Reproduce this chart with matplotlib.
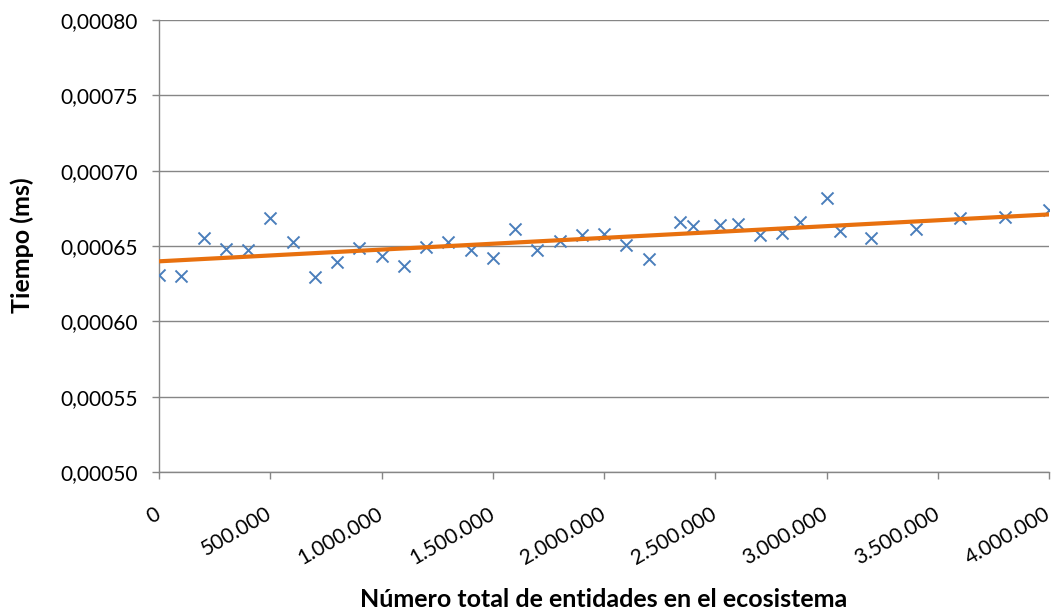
import numpy as np
import matplotlib
matplotlib.use("Agg")
import matplotlib.pyplot as plt
from matplotlib.ticker import FuncFormatter, MultipleLocator

plt.rcParams["font.family"] = ["Lato", "DejaVu Sans"]

# entity counts and measured time per entity (ms)
entidades = [
    0, 100000, 200000, 300000, 400000, 500000, 600000, 700000, 800000,
    900000, 1000000, 1100000, 1200000, 1300000, 1400000, 1500000, 1600000,
    1700000, 1800000, 1900000, 2000000, 2100000, 2200000, 2340000, 2400000,
    2520000, 2600000, 2700000, 2800000, 2880000, 3000000, 3060000, 3200000,
    3400000, 3600000, 3800000, 4000000,
]
tiempo = [
    0.0006305, 0.0006300, 0.0006553, 0.0006483, 0.0006473, 0.0006689,
    0.0006527, 0.0006293, 0.0006391, 0.0006485, 0.0006433, 0.0006369,
    0.0006496, 0.0006528, 0.0006473, 0.0006420, 0.0006611, 0.0006471,
    0.0006533, 0.0006571, 0.0006578, 0.0006505, 0.0006411, 0.0006658,
    0.0006633, 0.0006640, 0.0006649, 0.0006573, 0.0006583, 0.0006656,
    0.0006816, 0.0006598, 0.0006556, 0.0006616, 0.0006689, 0.0006693,
    0.0006740,
]

x = np.array(entidades, dtype=float)
y = np.array(tiempo)

# linear trend line
pend, orig = np.polyfit(x, y, 1)
xt = np.array([0, 4000000])
yt = orig + pend * xt

fig = plt.figure(figsize=(10.56, 6.14), dpi=100)
ax = fig.add_axes([0.1506, 0.2313, 0.8428, 0.7361])

gris = "#868686"
ax.scatter(x, y, marker="x", s=75, linewidths=1.4, color="#4A7EBB", zorder=3)
ax.plot(xt, yt, color="#E8700E", linewidth=3.0, zorder=4,
        solid_capstyle="butt")

ax.set_xlim(0, 4000000)
ax.set_ylim(0.0005, 0.0008)
ax.xaxis.set_major_locator(MultipleLocator(500000))
ax.yaxis.set_major_locator(MultipleLocator(0.00005))

ax.xaxis.set_major_formatter(
    FuncFormatter(lambda v, p: f"{int(round(v)):,}".replace(",", ".")))
ax.yaxis.set_major_formatter(
    FuncFormatter(lambda v, p: f"{v:.5f}".replace(".", ",")))

ax.grid(axis="y", color=gris, linewidth=1.0)
ax.set_axisbelow(True)
for s in ["top", "right"]:
    ax.spines[s].set_visible(False)
for s in ["left", "bottom"]:
    ax.spines[s].set_color(gris)
    ax.spines[s].set_linewidth(1.0)

ax.tick_params(axis="both", direction="out", length=5, width=1.0,
               color=gris, labelsize=15, labelcolor="black")
ax.tick_params(axis="x", pad=24)
ax.tick_params(axis="y", pad=10)
for lab in ax.get_xticklabels():
    lab.set_rotation(30)
    lab.set_ha("right")
    lab.set_va("center")
    lab.set_rotation_mode("anchor")

fig.text(0.021, 0.6, "Tiempo (ms)", rotation=90, ha="center", va="center",
         fontsize=18, fontweight="bold")
fig.text(0.572, 0.023, "Número total de entidades en el ecosistema",
         ha="center", va="center", fontsize=18, fontweight="bold")

fig.savefig("out.png", dpi=100)
